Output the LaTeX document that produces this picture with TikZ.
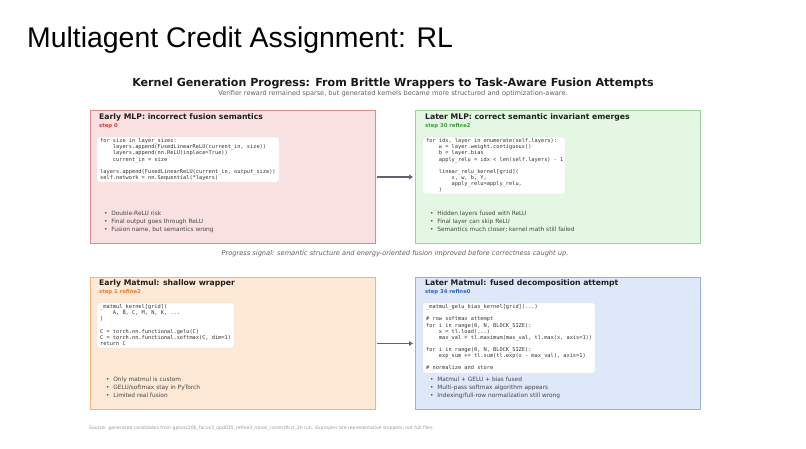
\documentclass[tikz,border=0pt]{standalone}
\usepackage{fontspec}
\setmainfont{DejaVu Sans}
\newfontfamily\arialfont{Liberation Sans}
\newfontfamily\monofont{DejaVu Sans Mono}
\usetikzlibrary{arrows.meta}
\definecolor{redfill}{HTML}{F9E1E1}
\definecolor{redline}{HTML}{DA8A8A}
\definecolor{redtxt}{HTML}{D43A3A}
\definecolor{grnfill}{HTML}{E3F7E3}
\definecolor{grnline}{HTML}{98D498}
\definecolor{grntxt}{HTML}{3C9A3C}
\definecolor{orgfill}{HTML}{FDE9D6}
\definecolor{orgline}{HTML}{F1B47A}
\definecolor{orgtxt}{HTML}{E77C2A}
\definecolor{blufill}{HTML}{DFE8F8}
\definecolor{bluline}{HTML}{94AEE8}
\definecolor{blutxt}{HTML}{2F5FD0}
\definecolor{arrowcol}{HTML}{5E6571}
\definecolor{codeline}{HTML}{E2E2E2}
\newcommand{\ind}{\phantom{xxxx}}
\newcommand{\indd}{\phantom{xxxxxxxx}}
\begin{document}
\begin{tikzpicture}[x=1pt,y=-1pt,
  panel/.style={rectangle, draw, line width=0.9pt, inner sep=0pt, anchor=north west, minimum width=285pt},
  heading/.style={anchor=west, inner sep=0pt, text=black!88, font=\bfseries\fontsize{7.7}{8}\selectfont},
  steplbl/.style={anchor=west, inner sep=0pt, font=\bfseries\fontsize{5.3}{6}\selectfont},
  codebox/.style={fill=white, draw=codeline, line width=0.4pt, rounded corners=2pt},
  codetxt/.style={anchor=north west, inner sep=0pt, align=left, text=black!80, font=\monofont\fontsize{5.3}{6.1}\selectfont},
  bullets/.style={anchor=north west, inner sep=0pt, align=left, text=black!72, font=\fontsize{5.85}{8}\selectfont},
  flow/.style={draw=arrowcol, line width=1.6pt, -{Triangle[length=4pt,width=4.5pt]}, shorten <=1pt, shorten >=2pt}
]
\useasboundingbox (0,0) rectangle (806,448);
\fill[white] (0,0) rectangle (806,448);

\node[anchor=base west, inner sep=0pt, font=\arialfont\fontsize{28.4}{30}\selectfont] (title) at (27,47) {Multiagent Credit Assignment: RL};

\node[inner sep=0pt, font=\bfseries\fontsize{11.1}{12}\selectfont, text=black!90] (maintitle) at (393,83) {Kernel Generation Progress: From Brittle Wrappers to Task-Aware Fusion Attempts};
\node[inner sep=0pt, font=\fontsize{6.6}{7}\selectfont, text=black!62] (subtitle) at (393,93.5) {Verifier reward remained sparse, but generated kernels became more structured and optimization-aware.};

% panels
\node[panel, fill=redfill, draw=redline, minimum height=133pt] (p1) at (90,110) {};
\node[panel, fill=grnfill, draw=grnline, minimum height=133pt] (p2) at (415,110) {};
\node[panel, fill=orgfill, draw=orgline, minimum height=132pt] (p3) at (90,277) {};
\node[panel, fill=blufill, draw=bluline, minimum height=132pt] (p4) at (415,277) {};

\draw[flow] (p1.east) -- (p2.west);
\draw[flow] (p3.east) -- (p4.west);

% panel 1
\node[heading] (h1) at (99,117) {Early MLP: incorrect fusion semantics};
\node[steplbl, text=redtxt] (s1) at (99,126.5) {step 0};
\draw[codebox] (97,137) rectangle (279,182);
\node[codetxt] (c1) at (100,138.5) {for size in layer\_sizes:\\
\ind layers.append(FusedLinearReLU(current\_in, size))\\
\ind layers.append(nn.ReLU(inplace=True))\\
\ind current\_in = size\\
\\
layers.append(FusedLinearReLU(current\_in, output\_size))\\
self.network = nn.Sequential(*layers)};
\node[bullets] (b1) at (104,210.5) {• \ Double-ReLU risk\\ • \ Final output goes through ReLU\\ • \ Fusion name, but semantics wrong};

% panel 2
\node[heading] (h2) at (425,117) {Later MLP: correct semantic invariant emerges};
\node[steplbl, text=grntxt] (s2) at (425,126.5) {step 30 refine2};
\draw[codebox] (423,137) rectangle (565,194);
\node[codetxt] (c2) at (426,138.5) {for idx, layer in enumerate(self.layers):\\
\ind w = layer.weight.contiguous()\\
\ind b = layer.bias\\
\ind apply\_relu = idx < len(self.layers) - 1\\
\\
\ind linear\_relu\_kernel[grid](\\
\indd x, w, b, Y,\\
\indd apply\_relu=apply\_relu,\\
\ind )};
\node[bullets] (b2) at (430,210.5) {• \ Hidden layers fused with ReLU\\ • \ Final layer can skip ReLU\\ • \ Semantics much closer; kernel math still failed};

% middle caption
\node[inner sep=0pt, font=\itshape\fontsize{6.65}{7}\selectfont, text=black!62] (mid) at (395,254) {Progress signal: semantic structure and energy-oriented fusion improved before correctness caught up.};

% panel 3
\node[heading] (h3) at (99,283) {Early Matmul: shallow wrapper};
\node[steplbl, text=orgtxt] (s3) at (99,292.5) {step 1 refine2};
\draw[codebox] (97,303) rectangle (234,348);
\node[codetxt] (c3) at (100,304.5) {\_matmul\_kernel[grid](\\
\ind A, B, C, M, N, K, ...\\
)\\
\\
C = torch.nn.functional.gelu(C)\\
C = torch.nn.functional.softmax(C, dim=1)\\
return C};
\node[bullets] (b3) at (106,376.5) {• \ Only matmul is custom\\ • \ GELU/softmax stay in PyTorch\\ • \ Limited real fusion};

% panel 4
\node[heading] (h4) at (425,283) {Later Matmul: fused decomposition attempt};
\node[steplbl, text=blutxt] (s4) at (425,292.5) {step 34 refine0};
\draw[codebox] (423,303) rectangle (595,373);
\node[codetxt] (c4) at (426,304.5) {\_matmul\_gelu\_bias\_kernel[grid](...)\\
\\
\# row softmax attempt\\
for i in range(0, N, BLOCK\_SIZE):\\
\ind x = tl.load(...)\\
\ind max\_val = tl.maximum(max\_val, tl.max(x, axis=1))\\
\\
for i in range(0, N, BLOCK\_SIZE):\\
\ind exp\_sum += tl.sum(tl.exp(x - max\_val), axis=1)\\
\\
\# normalize and store};
\node[bullets] (b4) at (430,376.5) {• \ Matmul + GELU + bias fused\\ • \ Multi-pass softmax algorithm appears\\ • \ Indexing/full-row normalization still wrong};

% footer
\node[anchor=west, inner sep=0pt, font=\fontsize{4.6}{5}\selectfont, text=black!40] (src) at (89,428) {Source: generated candidates from gptoss20b\_focus3\_opd035\_refine3\_noval\_correctfirst\_3h run. Examples are representative snippets, not full files.};
\end{tikzpicture}
\end{document}
